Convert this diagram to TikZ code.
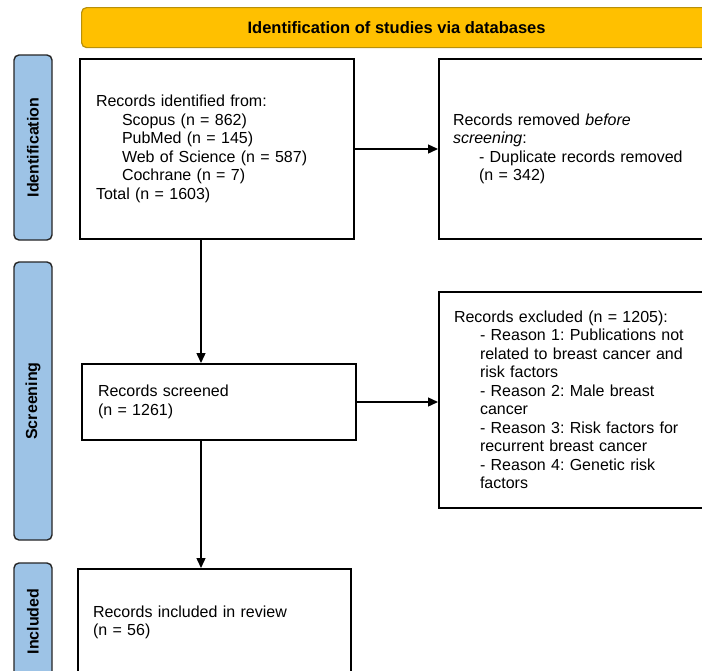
\documentclass[tikz,border=0pt]{standalone}
\usepackage{fontspec}
\setmainfont{Liberation Sans}
\usetikzlibrary{arrows.meta,calc}
\definecolor{hdr}{HTML}{FFC000}
\definecolor{hdrb}{HTML}{B8900A}
\definecolor{side}{HTML}{9DC3E6}
\definecolor{sideb}{HTML}{262626}
\newcommand{\ind}{\hspace*{26pt}}
\frenchspacing
\begin{document}
\begin{tikzpicture}[x=1pt,y=-1pt,
  box/.style={draw=black,line width=2pt,fill=white,anchor=north west,
    inner ysep=0pt,font=\fontsize{16}{18.5}\selectfont,align=left},
  side/.style={draw=sideb,line width=1.4pt,fill=side,rounded corners=5pt,
    rotate=90,minimum height=38pt,inner sep=0pt,anchor=center,
    font=\fontsize{16}{18}\selectfont\bfseries},
  hdrbox/.style={draw=hdrb,line width=1.2pt,fill=hdr,rounded corners=5pt,
    anchor=north west,minimum height=40pt,inner sep=0pt,
    font=\fontsize{16.5}{18}\selectfont\bfseries},
  arr/.style={line width=1.4pt,-{Triangle[length=10pt,width=9pt]}},
  ln/.style={line width=1.4pt}
]
\clip (0,0) rectangle (702,670);
\fill[white] (0,0) rectangle (702,670);

\node[hdrbox,minimum width=630pt] (hdr) at (81,7) {Identification of studies via databases};

\node[side,minimum width=185pt] (sid) at (33,147.5) {Identification};
\node[side,minimum width=278pt] (ssc) at (33,401) {Screening};
\node[side,minimum width=117pt] (sin) at (33,621.5) {Included};

\node[box,inner xsep=16pt,text width=242pt,minimum height=180pt] (b1) at (79,58)
  {Records identified from:\\
   \ind Scopus (n = 862)\\
   \ind PubMed (n = 145)\\
   \ind Web of Science (n = 587)\\
   \ind Cochrane (n = 7)\\
   Total (n = 1603)};

\node[box,inner xsep=14pt,text width=252pt,minimum height=180pt] (b2) at (438,58)
  {Records removed \textit{before}\\
   \textit{screening}:\\
   \ind - Duplicate records removed\\
   \ind (n = 342)};

\node[box,inner xsep=16pt,text width=242pt,minimum height=76pt] (b3) at (81,363)
  {Records screened\\
   (n = 1261)};

\node[box,inner xsep=15pt,text width=250pt,minimum height=216pt] (b4) at (438,291)
  {Records excluded (n = 1205):\\
   \ind - Reason 1: Publications not\\
   \ind related to breast cancer and\\
   \ind risk factors\\
   \ind - Reason 2: Male breast\\
   \ind cancer\\
   \ind - Reason 3: Risk factors for\\
   \ind recurrent breast cancer\\
   \ind - Reason 4: Genetic risk\\
   \ind factors};

\node[box,inner xsep=15pt,text width=243pt,minimum height=107pt] (b5) at (77,568)
  {Records included in review\\
   (n = 56)};

\coordinate (vx) at (201,0);

\draw[arr] (b1.east) -- (b1.east -| b2.west);
\draw[arr] (b1.south -| vx) -- (b3.north -| vx);
\draw[arr] (b3.east) -- (b3.east -| b4.west);
\draw[arr] (b3.south -| vx) -- (b5.north -| vx);
\end{tikzpicture}
\end{document}
